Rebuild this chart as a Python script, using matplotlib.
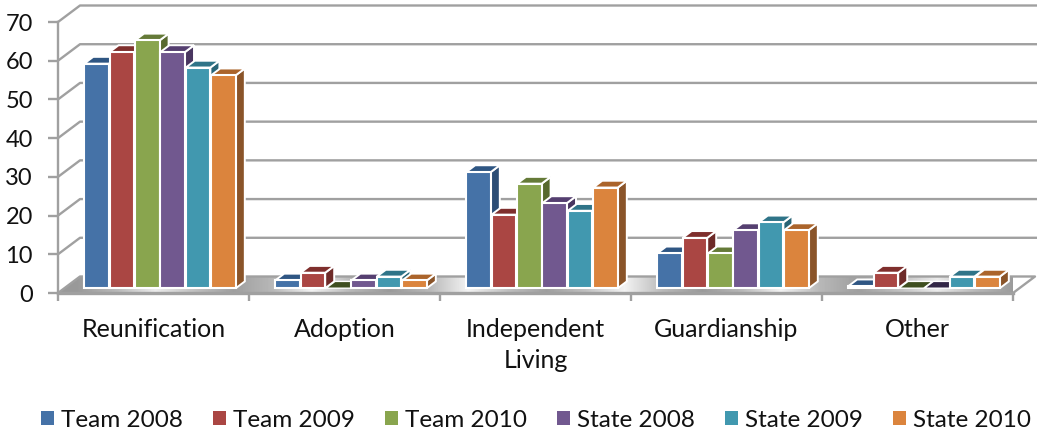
import matplotlib
matplotlib.use('Agg')
import matplotlib.pyplot as plt
import numpy as np
from matplotlib.patches import Polygon, Patch

categories = ['Reunification', 'Adoption', 'Independent\nLiving', 'Guardianship', 'Other']
team_2008 = [58, 2, 30, 9, 0.5]
team_2009 = [61, 4, 19, 13, 4]
team_2010 = [64, 0, 27, 9, 0]
state_2008 = [61, 2, 22, 15, 0]
state_2009 = [57, 3, 20, 17, 3]
state_2010 = [55, 2, 26, 15, 3]
y_ticks = [0, 10, 20, 30, 40, 50, 60, 70]

series = [('Team 2008', team_2008), ('Team 2009', team_2009), ('Team 2010', team_2010),
          ('State 2008', state_2008), ('State 2009', state_2009), ('State 2010', state_2010)]
front = ['#4572A7', '#AA4643', '#89A54E', '#71588F', '#4198AF', '#DB843D']
top = ['#2F5683', '#7F2F2D', '#657A38', '#553F70', '#2F7488', '#AB642B']
side = ['#2C4D75', '#6E2B29', '#58692F', '#493660', '#296577', '#8A5429']
zero_top = ['#2C4D75', '#6E2B29', '#3F4F20', '#322646', '#296577', '#8A5429']
grey = '#A0A0A0'

plt.rcParams['font.family'] = ['Lato', 'DejaVu Sans']

W, H = 1037, 444
fig = plt.figure(figsize=(W / 100, H / 100), dpi=100)
# axes box is the front edge of the 3d chart
ax = fig.add_axes([58 / W, (H - 293) / H, 955 / W, 271 / H])
ax.set_xlim(0, 5)
ax.set_ylim(0, 70)
ax.patch.set_visible(False)

# pixels to data units
px = 5 / 955
py = 70 / 271
wall_dx, wall_dy = 22 * px, 16.5 * py

# floor with a metallic gradient
floor = Polygon([(0, 0), (wall_dx, wall_dy), (5 + wall_dx, wall_dy), (5, 0)], closed=True,
                transform=ax.transData, fc='none', ec='none')
ax.add_patch(floor)
shades = np.array([[.6, .72, .92, .75, .62, .72, .95, .72, .6, .72, .95, .75, .62, .75, .95, .72, .6, .72, .95, .72, .62, .75, .92, .72, .6]])
img = ax.imshow(shades, cmap='gray', vmin=0, vmax=1, extent=(0, 5 + wall_dx, 0, wall_dy),
                aspect='auto', interpolation='bilinear', zorder=1)
img.set_clip_path(floor)
ax.set_xlim(0, 5)
ax.set_ylim(0, 70)
ax.plot([5, 5 + wall_dx, wall_dx, 0], [0, wall_dy, wall_dy, 0], color=grey, lw=1.7, clip_on=False, zorder=1.5)

# walls
for v in y_ticks[1:]:
    ax.plot([0, wall_dx, 5 + 24 * px], [v, v + wall_dy, v + wall_dy], color=grey, lw=1.7,
            clip_on=False, zorder=1.5, solid_joinstyle='round')

# bars, left to right so the nearer faces cover the sides
depth_x, depth_y = 9 * px, 6.8 * py
bar_w = 24.6 * px
pitch = 25.4 * px
start = 26.2 * px
base = 4.8 * py
for g in range(len(categories)):
    for s, (name, vals) in enumerate(series):
        v = vals[g]
        x0 = g + start + s * pitch
        x1 = x0 + bar_w
        y0 = base
        y1 = base + v
        z = 3 + g + s * 0.1
        if v > 0:
            ax.add_patch(Polygon([(x1, y0), (x1 + depth_x, y0 + depth_y), (x1 + depth_x, y1 + depth_y), (x1, y1)],
                                 fc=side[s], ec='white', lw=1.4, clip_on=False, zorder=z))
            ax.add_patch(Polygon([(x0, y1), (x0 + depth_x, y1 + depth_y), (x1 + depth_x, y1 + depth_y), (x1, y1)],
                                 fc=top[s], ec='white', lw=1.4, clip_on=False, zorder=z))
            ax.add_patch(Polygon([(x0, y0), (x1, y0), (x1, y1), (x0, y1)],
                                 fc=front[s], ec='white', lw=1.5, clip_on=False, zorder=z))
        else:
            ax.add_patch(Polygon([(x0, y0), (x0 + depth_x, y0 + depth_y), (x1 + depth_x, y0 + depth_y), (x1, y0)],
                                 fc=zero_top[s], ec='white', lw=1.0, clip_on=False, zorder=z))

# axes
for sp in ['top', 'right']:
    ax.spines[sp].set_visible(False)
ax.spines['left'].set_color(grey)
ax.spines['left'].set_linewidth(1.7)
ax.spines['left'].set_zorder(2)
ax.spines['bottom'].set_color(grey)
ax.spines['bottom'].set_linewidth(2.4)
ax.spines['bottom'].set_zorder(2)
ax.set_yticks(y_ticks)
ax.set_xticks(range(6))
ax.set_xticklabels([])
ax.set_xticks(np.arange(5) + 0.5, categories, minor=True)
ax.tick_params(axis='y', length=7, width=1.7, color=grey, labelsize=17, pad=11, labelcolor='#111111')
ax.tick_params(axis='x', which='major', length=6, width=1.7, color=grey)
ax.tick_params(axis='x', which='minor', length=0, labelsize=18, pad=18, labelcolor='#111111')
for lab in ax.get_xticklabels(minor=True):
    lab.set_linespacing(1.4)

handles = [Patch(fc=c, ec='none') for c in front]
fig.legend(handles, [s[0] for s in series], ncol=6, loc='center', bbox_to_anchor=(536 / W, (H - 420) / H),
           frameon=False, fontsize=17.5, handlelength=0.54, handleheight=0.54, handletextpad=0.3,
           columnspacing=1.22, labelcolor='#111111')

fig.savefig('out.png', dpi=100)
